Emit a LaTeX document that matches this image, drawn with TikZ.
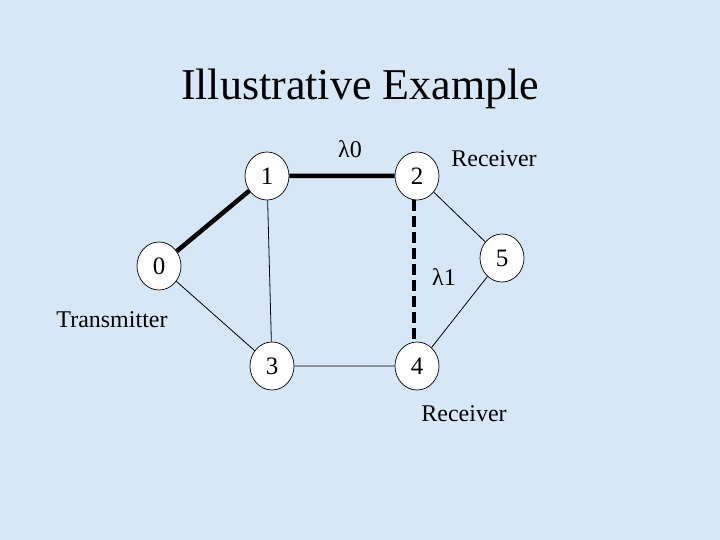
\documentclass[tikz,border=0pt]{standalone}
\usepackage{fontspec}
\setmainfont{Liberation Serif}
\usepackage{xcolor}
\usetikzlibrary{shapes.geometric, positioning}
\definecolor{slidebg}{RGB}{214,231,248}

\begin{document}
\begin{tikzpicture}[
  x=1pt, y=-1pt,
  netnode/.style={ellipse, draw, fill=white, line width=0.7pt, minimum width=44pt, minimum height=48pt, inner sep=0pt, font=\fontsize{25}{25}\selectfont},
  lbl/.style={inner sep=0pt, font=\fontsize{24}{24}\selectfont},
  link/.style={line width=0.8pt},
  lightpath/.style={line width=4.5pt},
  backup/.style={line width=4.5pt, dash pattern=on 11pt off 5pt}
]
  \fill[slidebg] (0,0) rectangle (720,540);
  \useasboundingbox (0,0) rectangle (720,540);
  \node[anchor=base, inner sep=0pt, font=\fontsize{44}{44}\selectfont] (title) at (360,100) {Illustrative Example};
  \node[netnode] (n0) at (159,266) {0};
  \node[netnode] (n1) at (267,176) {1};
  \node[netnode] (n2) at (417,176) {2};
  \node[netnode] (n3) at (272,366) {3};
  \node[netnode] (n4) at (417,366) {4};
  \node[netnode] (n5) at (502,258) {5};
  \node[lbl] (lam0) at (350,149) {λ0};
  \node[lbl] (lam1) at (444,277) {λ1};
  \node[lbl] (rx2) at (494,159) {Receiver};
  \node[lbl] (rx4) at (464,414) {Receiver};
  \node[lbl] (tx0) at (112,320) {Transmitter};
  % links
  \draw[link] (n1) -- (n3) (n0) -- (n3) (n3) -- (n4) (n2) -- (n5) (n5) -- (n4);
  \draw[lightpath] (n0) -- (n1) (n1) -- (n2);
  \draw[backup] ([xshift=-3pt]n2.south) -- ([xshift=-3pt]n4.north);
\end{tikzpicture}
\end{document}
